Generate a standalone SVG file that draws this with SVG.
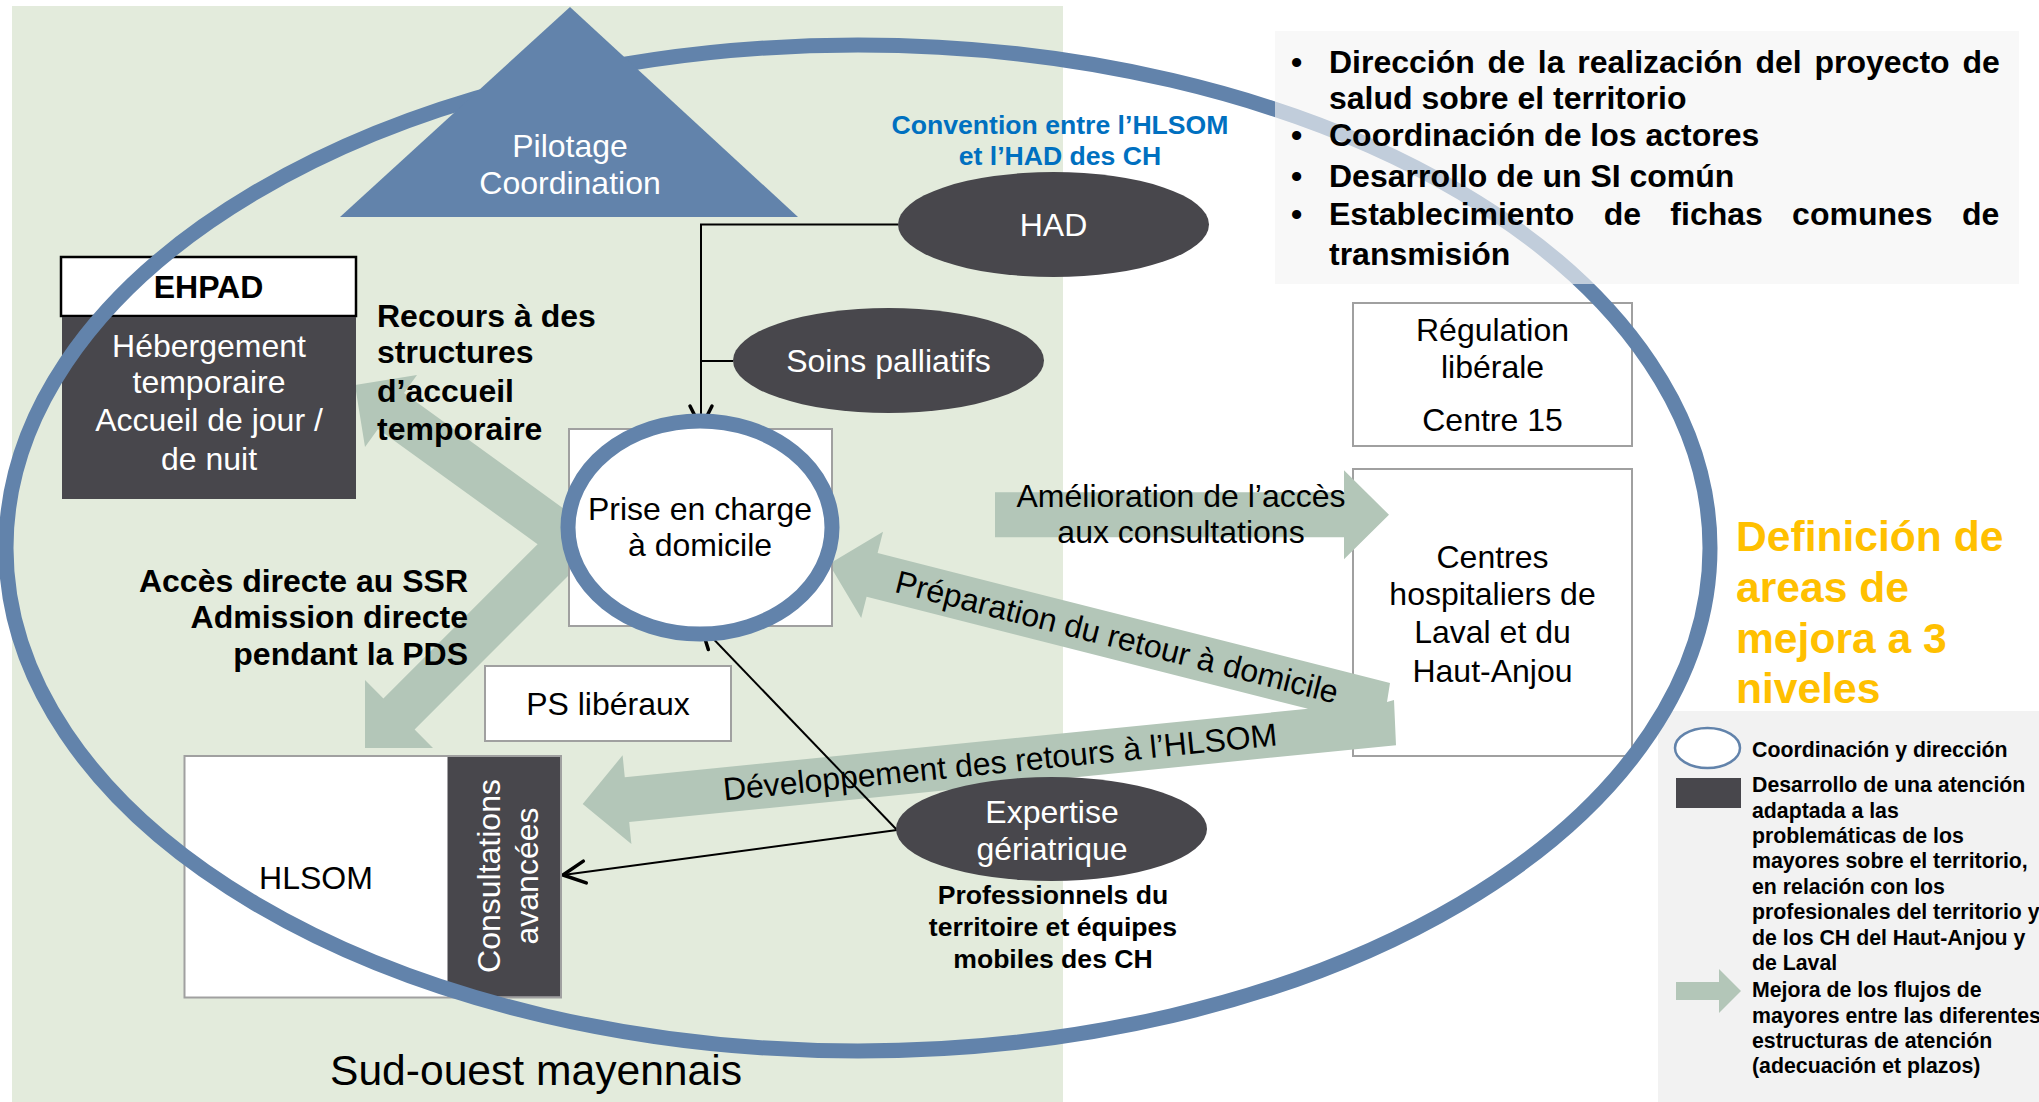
<svg xmlns="http://www.w3.org/2000/svg" width="2039" height="1102" viewBox="0 0 2039 1102">
<defs>
<style>
text{font-family:"Liberation Sans",Arial,sans-serif;fill:#000;}
.t32{font-size:32px;}
.b{font-weight:bold;}
.w{fill:#fff;}
.mid{text-anchor:middle;}
.end{text-anchor:end;}
.box{fill:#fff;stroke:#A0A0A0;stroke-width:2;}
.dark{fill:#48474C;}
.flow{fill:#B3C6B8;}
.ln{fill:none;stroke:#000;stroke-width:2;}
.leg{font-size:21.3px;font-weight:bold;}
.bul{font-size:32px;font-weight:bold;}
</style>
<marker id="open" markerUnits="userSpaceOnUse" markerWidth="32" markerHeight="32" viewBox="-27 -16 32 32" refX="0" refY="0" orient="auto">
<path d="M-22,-11 L0,0 L-22,11" fill="none" stroke="#000" stroke-width="3.5" stroke-linecap="round" stroke-linejoin="round"/>
</marker>
</defs>

<rect x="0" y="0" width="2039" height="1102" fill="#fff"/>
<rect id="territory" x="12" y="6" width="1051" height="1096" fill="#E3EBDC"/>
<rect id="legend-bg" x="1658" y="711" width="381" height="391" fill="#F2F2F2"/>

<g id="regulation">
<rect class="box" x="1353" y="303" width="279" height="143"/>
<text class="t32 mid" x="1492.5" y="341">Régulation</text>
<text class="t32 mid" x="1492.5" y="378">libérale</text>
<text class="t32 mid" x="1492.5" y="431">Centre 15</text>
</g>
<g id="centres-hospitaliers">
<rect class="box" x="1353" y="469" width="279" height="287"/>
<text class="t32 mid" x="1492.5" y="568">Centres</text>
<text class="t32 mid" x="1492.5" y="605">hospitaliers de</text>
<text class="t32 mid" x="1492.5" y="643">Laval et du</text>
<text class="t32 mid" x="1492.5" y="682">Haut-Anjou</text>
</g>

<g id="flows">
<polygon class="flow" points="355,385 417,375 404,393 600,535 600,544 414.6,729.6 433,748 365,748 365,680 383.4,698.4 537.6,544.2 378,429 365,447"/>
<polygon class="flow" points="829,564 883,531.8 877.6,553.1 1390,683 1387,702 1394,700 1396,745.2 629.2,822 631.4,843.9 582.7,804 622.6,755.3 624.8,777.2 1308,708.8 866.6,596.7 861.2,618"/>
<polygon class="flow" points="995,492.3 1344,492.3 1344,470.3 1389,514.8 1344,559.3 1344,537.3 995,537.3"/>
<text class="t32 mid" x="1181" y="507">Amélioration de l’accès</text>
<text class="t32 mid" x="1181" y="543">aux consultations</text>
<text class="t32 mid" transform="translate(1117,637) rotate(14.2)" x="0" y="11">Préparation du retour à domicile</text>
<text class="t32 mid" transform="translate(1000,762) rotate(-5.7)" x="0" y="11">Développement des retours à l’HLSOM</text>
</g>

<g id="connectors">
<path class="ln" d="M898,224.5 H701 V428" marker-end="url(#open)"/>
<path class="ln" d="M733,361 H701"/>
<path class="ln" d="M897,830 L701,626" marker-end="url(#open)"/>
<path class="ln" d="M897,830 L563,875" marker-end="url(#open)"/>
</g>

<g id="had">
<ellipse class="dark" cx="1053.5" cy="224.5" rx="155.5" ry="52.5"/>
<text class="t32 w mid" x="1053.5" y="236">HAD</text>
</g>
<g id="soins-palliatifs">
<ellipse class="dark" cx="888.5" cy="360.5" rx="155.5" ry="52.5"/>
<text class="t32 w mid" x="888.5" y="372">Soins palliatifs</text>
</g>
<g id="expertise">
<ellipse class="dark" cx="1051.5" cy="829" rx="155.5" ry="52"/>
<text class="t32 w mid" x="1052" y="823">Expertise</text>
<text class="t32 w mid" x="1052" y="860">gériatrique</text>
</g>
<g id="prise-en-charge">
<rect class="box" x="569" y="429" width="263" height="197"/>
<ellipse cx="700" cy="527.5" rx="132" ry="106.5" fill="#fff" stroke="#6283AB" stroke-width="15"/>
<text class="t32 mid" x="700" y="520">Prise en charge</text>
<text class="t32 mid" x="700" y="556">à domicile</text>
</g>
<g id="ps-liberaux">
<rect class="box" x="485" y="666" width="246" height="75"/>
<text class="t32 mid" x="608" y="715">PS libéraux</text>
</g>
<g id="ehpad">
<rect x="61" y="257" width="295" height="59" fill="#fff" stroke="#000" stroke-width="2.5"/>
<rect class="dark" x="62" y="317" width="294" height="182"/>
<text class="t32 b mid" x="208.5" y="298">EHPAD</text>
<text class="t32 w mid" x="209" y="357">Hébergement</text>
<text class="t32 w mid" x="209" y="393">temporaire</text>
<text class="t32 w mid" x="209" y="431">Accueil de jour /</text>
<text class="t32 w mid" x="209" y="470">de nuit</text>
</g>
<g id="hlsom">
<rect x="184.5" y="756" width="376.5" height="241.5" fill="#fff" stroke="#A0A0A0" stroke-width="2"/>
<rect class="dark" x="447.5" y="757" width="112.5" height="239.5"/>
<text class="t32 mid" x="316" y="889">HLSOM</text>
<text class="t32 w mid" transform="translate(500,876) rotate(-90)" x="0" y="0">Consultations</text>
<text class="t32 w mid" transform="translate(538,876) rotate(-90)" x="0" y="0">avancées</text>
</g>

<g id="scope">
<ellipse cx="858" cy="548" rx="852" ry="503" fill="none" stroke="#6283AB" stroke-width="15"/>
</g>

<g id="pilotage">
<polygon points="570,7 340,217 798,217" fill="#6283AB"/>
<text class="t32 w mid" x="570" y="157">Pilotage</text>
<text class="t32 w mid" x="570" y="194">Coordination</text>
</g>

<g id="objectives">
<rect x="1275" y="31" width="744" height="253" fill="#F4F4F4" fill-opacity="0.65"/>
<text class="bul" x="1291" y="73">•</text>
<text class="bul" x="1329" y="73" word-spacing="3.9">Dirección de la realización del proyecto de</text>
<text class="bul" x="1329" y="109">salud sobre el territorio</text>
<text class="bul" x="1291" y="146">•</text>
<text class="bul" x="1329" y="146">Coordinación de los actores</text>
<text class="bul" x="1291" y="187">•</text>
<text class="bul" x="1329" y="187">Desarrollo de un SI común</text>
<text class="bul" x="1291" y="225">•</text>
<text class="bul" x="1329" y="225" word-spacing="20.4">Establecimiento de fichas comunes de</text>
<text class="bul" x="1329" y="265">transmisión</text>
</g>

<g id="labels">
<text class="b mid" style="font-size:26.6px;fill:#0070C0" x="1060" y="134">Convention entre l’HLSOM</text>
<text class="b mid" style="font-size:26.6px;fill:#0070C0" x="1060" y="165">et l’HAD des CH</text>
<text class="t32 b" x="377" y="327">Recours à des</text>
<text class="t32 b" x="377" y="363">structures</text>
<text class="t32 b" x="377" y="402">d’accueil</text>
<text class="t32 b" x="377" y="440">temporaire</text>
<text class="t32 b end" x="468" y="592">Accès directe au SSR</text>
<text class="t32 b end" x="468" y="628">Admission directe</text>
<text class="t32 b end" x="468" y="665">pendant la PDS</text>
<text class="b mid" style="font-size:26.6px" x="1053" y="904">Professionnels du</text>
<text class="b mid" style="font-size:26.6px" x="1053" y="936">territoire et équipes</text>
<text class="b mid" style="font-size:26.6px" x="1053" y="968">mobiles des CH</text>
<text class="mid" style="font-size:42.6px" x="536" y="1085">Sud-ouest mayennais</text>
<text class="b" style="font-size:42.6px;fill:#FFC000" x="1736" y="551">Definición de</text>
<text class="b" style="font-size:42.6px;fill:#FFC000" x="1736" y="602">areas de</text>
<text class="b" style="font-size:42.6px;fill:#FFC000" x="1736" y="653">mejora a 3</text>
<text class="b" style="font-size:42.6px;fill:#FFC000" x="1736" y="703">niveles</text>
</g>

<g id="legend">
<ellipse cx="1707.5" cy="748" rx="32.5" ry="20" fill="#fff" stroke="#6283AB" stroke-width="2.5"/>
<text class="leg" x="1752" y="757">Coordinación y dirección</text>
<rect class="dark" x="1676" y="778" width="65" height="30"/>
<text class="leg" x="1752" y="792">Desarrollo de una atención</text>
<text class="leg" x="1752" y="817.5">adaptada a las</text>
<text class="leg" x="1752" y="843">problemáticas de los</text>
<text class="leg" x="1752" y="868">mayores sobre el territorio,</text>
<text class="leg" x="1752" y="893.5">en relación con los</text>
<text class="leg" x="1752" y="919">profesionales del territorio y</text>
<text class="leg" x="1752" y="944.5">de los CH del Haut-Anjou y</text>
<text class="leg" x="1752" y="970">de Laval</text>
<polygon class="flow" points="1676,982 1719,982 1719,969 1741,991 1719,1013 1719,1000 1676,1000"/>
<text class="leg" x="1752" y="997">Mejora de los flujos de</text>
<text class="leg" x="1752" y="1022.5">mayores entre las diferentes</text>
<text class="leg" x="1752" y="1048">estructuras de atención</text>
<text class="leg" x="1752" y="1073">(adecuación et plazos)</text>
</g>
</svg>
